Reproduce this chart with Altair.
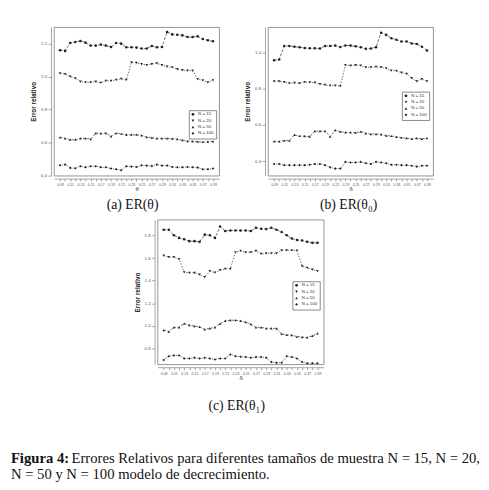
import altair as alt
import pandas as pd

THETA = [0.09, 0.10, 0.11, 0.12, 0.13, 0.14, 0.15, 0.16, 0.17, 0.18, 0.19,
         0.20, 0.21, 0.22, 0.23, 0.24, 0.25, 0.26, 0.27, 0.28, 0.29, 0.30,
         0.31, 0.32, 0.33, 0.34, 0.35, 0.36, 0.37, 0.38, 0.39]
SERIES = ["N = 15", "N = 20", "N = 50", "N = 100"]
SHAPES = ["circle", "triangle-down", "triangle-up", "diamond"]
DASHES = [[3, 1.5], [1.5, 1.5], [2.5, 1.5], [1, 1]]

# (a) ER(theta)
A_N15 = [1.160, 1.156, 1.204, 1.210, 1.216, 1.206, 1.188, 1.188, 1.194, 1.188, 1.180,
         1.204, 1.200, 1.178, 1.178, 1.176, 1.170, 1.170, 1.186, 1.178, 1.180, 1.270,
         1.256, 1.254, 1.250, 1.240, 1.240, 1.244, 1.228, 1.220, 1.214]
A_N20 = [1.020, 1.015, 1.000, 0.990, 0.970, 0.965, 0.965, 0.970, 0.963, 0.975, 0.975,
         0.980, 0.987, 0.980, 1.086, 1.084, 1.076, 1.070, 1.076, 1.080, 1.070, 1.060,
         1.056, 1.045, 1.040, 1.036, 1.036, 0.985, 0.977, 0.965, 0.977]
A_N50 = [0.632, 0.626, 0.618, 0.618, 0.626, 0.626, 0.622, 0.658, 0.656, 0.658, 0.638,
         0.658, 0.654, 0.648, 0.648, 0.648, 0.644, 0.634, 0.630, 0.626, 0.626, 0.626,
         0.624, 0.622, 0.616, 0.610, 0.608, 0.606, 0.604, 0.606, 0.608]
A_N100 = [0.463, 0.467, 0.447, 0.445, 0.457, 0.451, 0.457, 0.457, 0.451, 0.451, 0.443,
          0.439, 0.433, 0.457, 0.455, 0.453, 0.463, 0.461, 0.459, 0.467, 0.461, 0.461,
          0.453, 0.451, 0.451, 0.453, 0.451, 0.449, 0.439, 0.439, 0.443]

# (b) ER(theta0)
B_N15 = [0.957, 0.961, 1.036, 1.036, 1.032, 1.029, 1.025, 1.023, 1.023, 1.022, 1.036,
         1.036, 1.038, 1.030, 1.039, 1.038, 1.034, 1.029, 1.020, 1.022, 1.029, 1.109,
         1.097, 1.079, 1.070, 1.061, 1.061, 1.050, 1.047, 1.032, 1.011]
B_N20 = [0.841, 0.841, 0.837, 0.830, 0.832, 0.830, 0.837, 0.835, 0.833, 0.826, 0.821,
         0.817, 0.817, 0.814, 0.930, 0.927, 0.930, 0.928, 0.918, 0.918, 0.921, 0.918,
         0.912, 0.900, 0.898, 0.889, 0.882, 0.858, 0.841, 0.853, 0.841]
B_N50 = [0.509, 0.509, 0.514, 0.514, 0.545, 0.539, 0.538, 0.536, 0.566, 0.566, 0.566,
         0.536, 0.572, 0.563, 0.559, 0.559, 0.557, 0.563, 0.554, 0.550, 0.550, 0.548,
         0.541, 0.539, 0.534, 0.530, 0.527, 0.523, 0.527, 0.523, 0.527]
B_N100 = [0.384, 0.384, 0.378, 0.378, 0.378, 0.378, 0.378, 0.380, 0.384, 0.384, 0.378,
          0.366, 0.359, 0.359, 0.396, 0.393, 0.393, 0.396, 0.389, 0.385, 0.396, 0.393,
          0.389, 0.380, 0.380, 0.378, 0.378, 0.375, 0.370, 0.375, 0.375]

# (c) ER(theta1)
C_N15 = [1.852, 1.852, 1.803, 1.780, 1.768, 1.751, 1.751, 1.745, 1.809, 1.803, 1.780,
         1.881, 1.841, 1.846, 1.846, 1.846, 1.846, 1.841, 1.870, 1.861, 1.858, 1.870,
         1.852, 1.832, 1.803, 1.774, 1.762, 1.757, 1.745, 1.736, 1.736]
C_N20 = [1.623, 1.609, 1.609, 1.591, 1.475, 1.470, 1.470, 1.455, 1.432, 1.484, 1.472,
         1.493, 1.504, 1.504, 1.652, 1.664, 1.652, 1.652, 1.664, 1.638, 1.643, 1.643,
         1.643, 1.670, 1.670, 1.670, 1.667, 1.528, 1.513, 1.499, 1.484]
C_N50 = [0.962, 0.948, 0.986, 0.986, 1.020, 1.006, 0.997, 0.991, 0.968, 0.977, 0.986,
         1.020, 1.043, 1.049, 1.049, 1.043, 1.032, 1.014, 0.986, 0.986, 0.977, 0.977,
         0.977, 0.928, 0.919, 0.916, 0.904, 0.899, 0.896, 0.910, 0.933]
C_N100 = [0.696, 0.730, 0.736, 0.736, 0.710, 0.710, 0.716, 0.710, 0.716, 0.710, 0.701,
          0.710, 0.710, 0.745, 0.730, 0.725, 0.722, 0.716, 0.722, 0.722, 0.716, 0.678,
          0.672, 0.672, 0.730, 0.722, 0.710, 0.678, 0.667, 0.667, 0.667]

A_YTICKS = [0.4, 0.6, 0.8, 1.0, 1.2]
B_YTICKS = [0.4, 0.6, 0.8, 1.0]
C_YTICKS = [0.8, 1.0, 1.2, 1.4, 1.6, 1.8]

CAP_A = "(a) ER(θ)"
CAP_B = "(b) ER(θ₀)"
CAP_C = "(c) ER(θ₁)"
CAP_BOLD = "Figura 4:"
CAP_LINE1 = "Errores Relativos para diferentes tamaños de muestra N = 15, N = 20,"
CAP_LINE2 = "N = 50 y N = 100 modelo de decrecimiento."

SERIF = "Liberation Serif"
SANS = "Liberation Sans"


def panel(values, ydom, yticks, xtitle, caption, cap_dx, cap_off, lx, ly, w, h):
    rows = []
    for name, ys in zip(SERIES, values):
        for x, y in zip(THETA, ys):
            rows.append({"x": x, "y": y, "N": name})
    df = pd.DataFrame(rows)
    x = alt.X("x:Q",
              scale=alt.Scale(domain=[0.078, 0.402], nice=False, zero=False),
              axis=alt.Axis(values=THETA, title=xtitle,
                            labelExpr="(round(datum.value*100) % 2 == 1) ? format(datum.value, '.2f') : ''",
                            labelOverlap=False, labelFlush=False, labelBound=False,
                            labelFontSize=3.6, labelColor="#555", labelPadding=1.5,
                            tickSize=2.5, tickColor="#666", tickWidth=0.6,
                            domainColor="#666", domainWidth=0.6, offset=3,
                            titleFontSize=6, titleColor="#444", titlePadding=0,
                            titleFontWeight="normal", grid=False))
    y = alt.Y("y:Q",
              scale=alt.Scale(domain=ydom, nice=False, zero=False),
              axis=alt.Axis(values=yticks, format=".1f", title="Error relativo",
                            labelFontSize=4.5, labelColor="#555", labelPadding=1.5,
                            tickSize=3, tickColor="#666", tickWidth=0.6,
                            domainColor="#666", domainWidth=0.6, offset=3,
                            titleFontSize=6.5, titleColor="#222", titlePadding=4,
                            titleFontWeight="bold", grid=False))
    leg = alt.Legend(orient="none", legendX=lx, legendY=ly, title=None,
                     fillColor="white", strokeColor="#888",
                     padding=2, labelFontSize=4.5, labelColor="#333",
                     symbolSize=8, rowPadding=0.5, labelOffset=3,
                     symbolFillColor="#222", symbolStrokeColor="#222",
                     symbolStrokeWidth=0.6)
    base = alt.Chart(df)
    lines = base.mark_line(color="#333", strokeWidth=0.7).encode(
        x=x, y=y,
        strokeDash=alt.StrokeDash("N:N", scale=alt.Scale(domain=SERIES, range=DASHES), legend=leg),
    )
    pts = base.mark_point(filled=True, color="#222", size=7, opacity=1).encode(
        x=x, y=y,
        shape=alt.Shape("N:N", scale=alt.Scale(domain=SERIES, range=SHAPES), legend=leg),
    )
    return alt.layer(lines, pts).properties(
        width=w, height=h,
        view=alt.ViewBackground(stroke="#777", strokeWidth=0.8),
        title=alt.TitleParams(caption, orient="bottom", frame="group", anchor="middle",
                              font=SERIF, fontSize=14, fontWeight="normal",
                              color="#111", offset=cap_off, dx=cap_dx),
    )


pa = panel([A_N15, A_N20, A_N50, A_N100], [0.40, 1.30], A_YTICKS, "θ", CAP_A, -4, 6, 138, 85, 169, 152)
pb = panel([B_N15, B_N20, B_N50, B_N100], [0.32, 1.14], B_YTICKS, "δ", CAP_B, -2, 6, 137, 66, 169, 152)
pc = panel([C_N15, C_N20, C_N50, C_N100], [0.658, 1.942], C_YTICKS, "δ", CAP_C, -4, 19, 138, 63, 170, 148)


def spacer(w):
    return alt.Chart(pd.DataFrame({"s": [0]})).mark_point(opacity=0).encode(
        x=alt.value(0), y=alt.value(0)
    ).properties(width=w, height=10, view=alt.ViewBackground(strokeOpacity=0))


def indep(c):
    return c.resolve_scale(shape="independent", strokeDash="independent").resolve_legend(
        shape="independent", strokeDash="independent")


cap_df = pd.DataFrame({"bold": [CAP_BOLD], "l1": [CAP_LINE1], "l2": [CAP_LINE2]})
cap_base = alt.Chart(cap_df)
t_bold = cap_base.mark_text(font=SERIF, fontSize=15, fontWeight="bold", align="left",
                            baseline="alphabetic", color="#111").encode(
    text="bold:N", x=alt.value(0), y=alt.value(11))
t_l1 = cap_base.mark_text(font=SERIF, fontSize=15, align="left",
                          baseline="alphabetic", color="#111").encode(
    text="l1:N", x=alt.value(62), y=alt.value(11))
t_l2 = cap_base.mark_text(font=SERIF, fontSize=15, align="left",
                          baseline="alphabetic", color="#111").encode(
    text="l2:N", x=alt.value(0), y=alt.value(27))
caption = alt.layer(t_bold, t_l1, t_l2).properties(
    width=460, height=30, view=alt.ViewBackground(strokeOpacity=0))

pair = indep(alt.hconcat(pa, pb, spacing=24))
row1 = indep(alt.hconcat(spacer(19), pair, spacing=0))
row2 = indep(alt.hconcat(spacer(125), pc, spacing=0))
lower = indep(alt.vconcat(row2, caption, spacing=39))

chart = indep(alt.vconcat(row1, lower, spacing=5)).properties(
    padding={"left": 0, "top": 11, "right": 0, "bottom": 0}
).configure(font=SANS).configure_view(strokeWidth=0.8)

chart.save("out.html", embed_options={"renderer": "svg", "actions": False})
